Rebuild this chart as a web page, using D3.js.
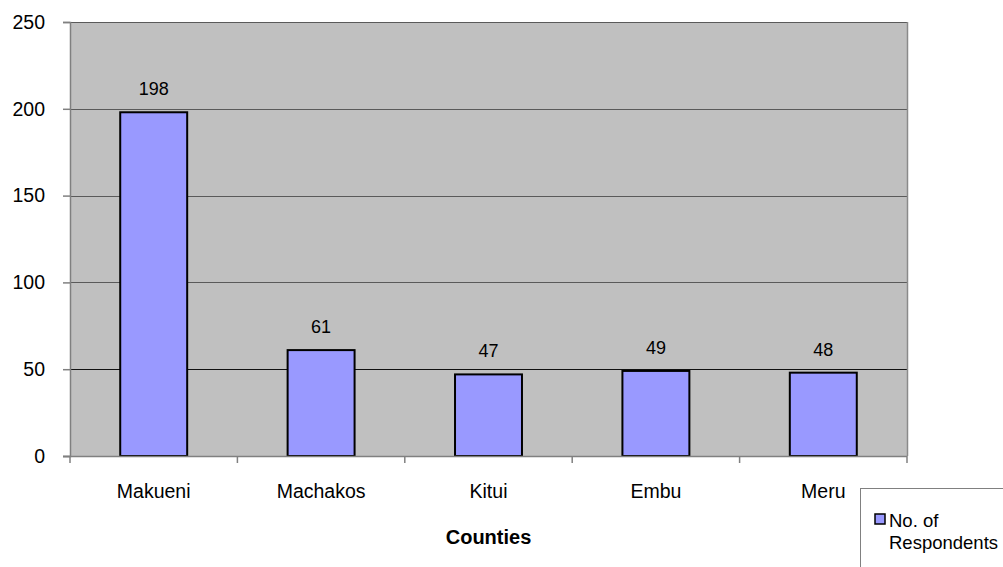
<!DOCTYPE html>
<html>
<head>
<meta charset="utf-8">
<script src="https://cdn.jsdelivr.net/npm/d3@7"></script>
<style>
  html, body { margin: 0; padding: 0; background: #fff; }
  svg { display: block; font-family: Arial, "Liberation Sans", sans-serif; }
</style>
</head>
<body>
<svg id="chart" width="1003" height="567"></svg>
<script>
// Respondents per county
const counties = ["Makueni", "Machakos", "Kitui", "Embu", "Meru"];
const respondents = [198, 61, 47, 49, 48];
const yTicks = [0, 50, 100, 150, 200, 250];
const seriesName = ["No. of", "Respondents"];
const axisTitle = "Counties";

const svg = d3.select("#chart");
const plot = { left: 70, right: 907, top: 22, bottom: 456 };

const x = d3.scaleBand()
  .domain(counties)
  .range([plot.left, plot.right])
  .paddingInner(0.6)
  .paddingOuter(0.3);

const y = d3.scaleLinear()
  .domain([0, 250])
  .range([plot.bottom, plot.top]);

// plot background
svg.append("rect")
  .attr("x", plot.left).attr("y", plot.top)
  .attr("width", plot.right - plot.left)
  .attr("height", plot.bottom - plot.top)
  .attr("fill", "#c0c0c0");

// horizontal gridlines
svg.append("g").selectAll("line")
  .data(yTicks.filter(t => t > 0))
  .join("line")
  .attr("x1", plot.left).attr("x2", plot.right)
  .attr("y1", d => Math.round(y(d)) + 0.5).attr("y2", d => Math.round(y(d)) + 0.5)
  .attr("stroke", d => d === 50 ? "#111" : "#5a5a5a")
  .attr("stroke-width", 1.2);

// right border of the plot area
svg.append("line")
  .attr("x1", plot.right + 0.5).attr("x2", plot.right + 0.5)
  .attr("y1", plot.top).attr("y2", plot.bottom)
  .attr("stroke", "#8a8a8a").attr("stroke-width", 1.5);

// bars
svg.append("g").selectAll("rect")
  .data(counties)
  .join("rect")
  .attr("x", d => x(d))
  .attr("y", (d, i) => y(respondents[i]))
  .attr("width", x.bandwidth())
  .attr("height", (d, i) => y(0) - y(respondents[i]))
  .attr("fill", "#9999ff")
  .attr("stroke", "#000")
  .attr("stroke-width", 2);

// value labels
svg.append("g").selectAll("text")
  .data(counties)
  .join("text")
  .attr("x", d => x(d) + x.bandwidth() / 2)
  .attr("y", (d, i) => y(respondents[i]) - 17)
  .attr("text-anchor", "middle")
  .attr("font-size", 18)
  .attr("fill", "#000")
  .text((d, i) => respondents[i]);

// y axis
const yAxis = svg.append("g")
  .attr("transform", `translate(${plot.left},0)`)
  .call(d3.axisLeft(y).tickValues(yTicks).tickSize(7).tickPadding(18));
yAxis.select(".domain").attr("stroke", "#808080").attr("stroke-width", 1.5);
yAxis.selectAll(".tick line").attr("stroke", "#808080").attr("stroke-width", 1.5);
yAxis.selectAll(".tick text")
  .attr("font-size", 19.5).attr("fill", "#000")
  .attr("font-family", "Arial, 'Liberation Sans', sans-serif");

// x axis: category boundaries carry the tick marks
const xAxis = svg.append("g")
  .attr("transform", `translate(0,${plot.bottom})`);
xAxis.append("line")
  .attr("x1", plot.left - 7).attr("x2", plot.right)
  .attr("y1", 0.5).attr("y2", 0.5)
  .attr("stroke", "#808080").attr("stroke-width", 1.5);
const bounds = d3.range(counties.length + 1).map(i => plot.left + i * (plot.right - plot.left) / counties.length);
xAxis.selectAll("line.tick")
  .data(bounds)
  .join("line")
  .attr("class", "tick")
  .attr("x1", d => d).attr("x2", d => d)
  .attr("y1", 0).attr("y2", 7)
  .attr("stroke", "#808080").attr("stroke-width", 1.5);
xAxis.selectAll("text")
  .data(counties)
  .join("text")
  .attr("x", d => x(d) + x.bandwidth() / 2)
  .attr("y", 42)
  .attr("text-anchor", "middle")
  .attr("font-size", 19.5)
  .attr("fill", "#000")
  .text(d => d);

// axis title
svg.append("text")
  .attr("x", (plot.left + plot.right) / 2)
  .attr("y", 544)
  .attr("text-anchor", "middle")
  .attr("font-size", 20)
  .attr("font-weight", "bold")
  .text(axisTitle);

// legend
const legend = svg.append("g");
legend.append("rect")
  .attr("x", 860.5).attr("y", 488.5)
  .attr("width", 160).attr("height", 100)
  .attr("fill", "#fff").attr("stroke", "#808080").attr("stroke-width", 1);
legend.append("rect")
  .attr("x", 875).attr("y", 514)
  .attr("width", 10).attr("height", 10)
  .attr("fill", "#9999ff").attr("stroke", "#000").attr("stroke-width", 1.5);
legend.append("text")
  .attr("x", 889).attr("y", 527)
  .attr("font-size", 18.5)
  .selectAll("tspan")
  .data(seriesName)
  .join("tspan")
  .attr("x", 889)
  .attr("dy", (d, i) => i === 0 ? 0 : 21.5)
  .text(d => d);
</script>
</body>
</html>
